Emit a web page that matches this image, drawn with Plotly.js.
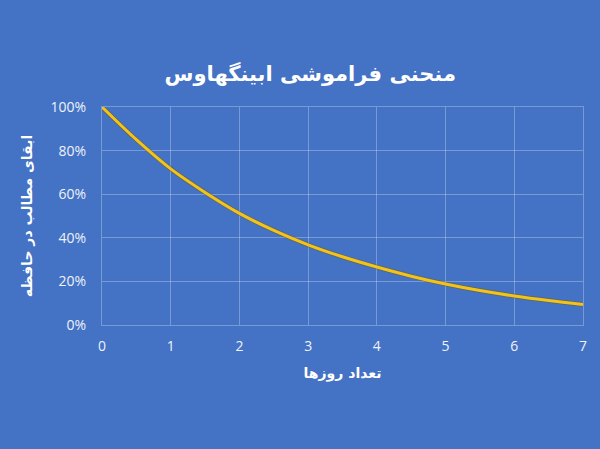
<!DOCTYPE html>
<html>
<head>
<meta charset="utf-8">
<script src="https://cdn.plot.ly/plotly-3.0.1.min.js"></script>
<style>html,body{margin:0;padding:0;background:#4472C4;}</style>
</head>
<body>
<div id="chart" style="width:600px;height:449px;"></div>
<script>
const days = [0, 0.5, 1, 1.5, 2, 2.5, 3, 3.5, 4, 4.5, 5, 5.5, 6, 6.5, 7];
const retention = [100, 85, 71.6, 60.8, 51.2, 43.4, 36.8, 31.3, 26.6, 22.4, 18.8, 15.8, 13.3, 11.2, 9.4];
const xTicks = [0, 1, 2, 3, 4, 5, 6, 7];
const yTicks = [0, 20, 40, 60, 80, 100];
const yTickText = ['0%', '20%', '40%', '60%', '80%', '100%'];
const titleText = 'منحنی فراموشی ابینگهاوس';
const xTitle = 'تعداد روزها';
const yTitle = 'ابقای مطالب در حافظه';

const bg = '#4472C4';
const gridColor = 'rgba(255,255,255,0.28)';
const tickFont = {family: 'Open Sans, Liberation Sans, sans-serif', size: 14, color: '#eef2fa'};

const data = [
  {x: days, y: retention, type: 'scatter', mode: 'lines',
   line: {color: 'rgba(120,90,0,0.5)', width: 4.5, shape: 'spline', smoothing: 1}, hoverinfo: 'skip'},
  {x: days, y: retention, type: 'scatter', mode: 'lines',
   line: {color: '#F2C31A', width: 3, shape: 'spline', smoothing: 1}}
];

const layout = {
  width: 600, height: 449,
  paper_bgcolor: bg, plot_bgcolor: bg,
  showlegend: false,
  margin: {l: 102, r: 17, t: 107, b: 124},
  title: {text: '<b>' + titleText + '</b>', x: 0.517, xanchor: 'center', y: 0.835, yanchor: 'middle',
          font: {family: 'DejaVu Sans, sans-serif', size: 21, color: '#ffffff'}},
  xaxis: {range: [0, 7], tickvals: xTicks, ticktext: xTicks.map(String),
          showgrid: true, gridcolor: gridColor, gridwidth: 1, zeroline: false,
          showline: true, linecolor: gridColor, mirror: true, ticks: '', ticklabelstandoff: 8,
          tickfont: tickFont, fixedrange: true,
          title: {text: '<b>' + xTitle + '</b>', standoff: 14,
                  font: {family: 'DejaVu Sans, sans-serif', size: 14, color: '#ffffff'}}},
  yaxis: {range: [0, 100], tickvals: yTicks, ticktext: yTickText,
          showgrid: true, gridcolor: gridColor, gridwidth: 1, zeroline: false,
          showline: true, linecolor: gridColor, mirror: true, ticks: '', ticklabelstandoff: 12,
          tickfont: tickFont, fixedrange: true,
          title: {text: '<b>' + yTitle + '</b>', standoff: 14,
                  font: {family: 'DejaVu Sans, sans-serif', size: 14, color: '#ffffff'}}}
};

Plotly.newPlot('chart', data, layout, {displayModeBar: false, staticPlot: true});
</script>
</body>
</html>
